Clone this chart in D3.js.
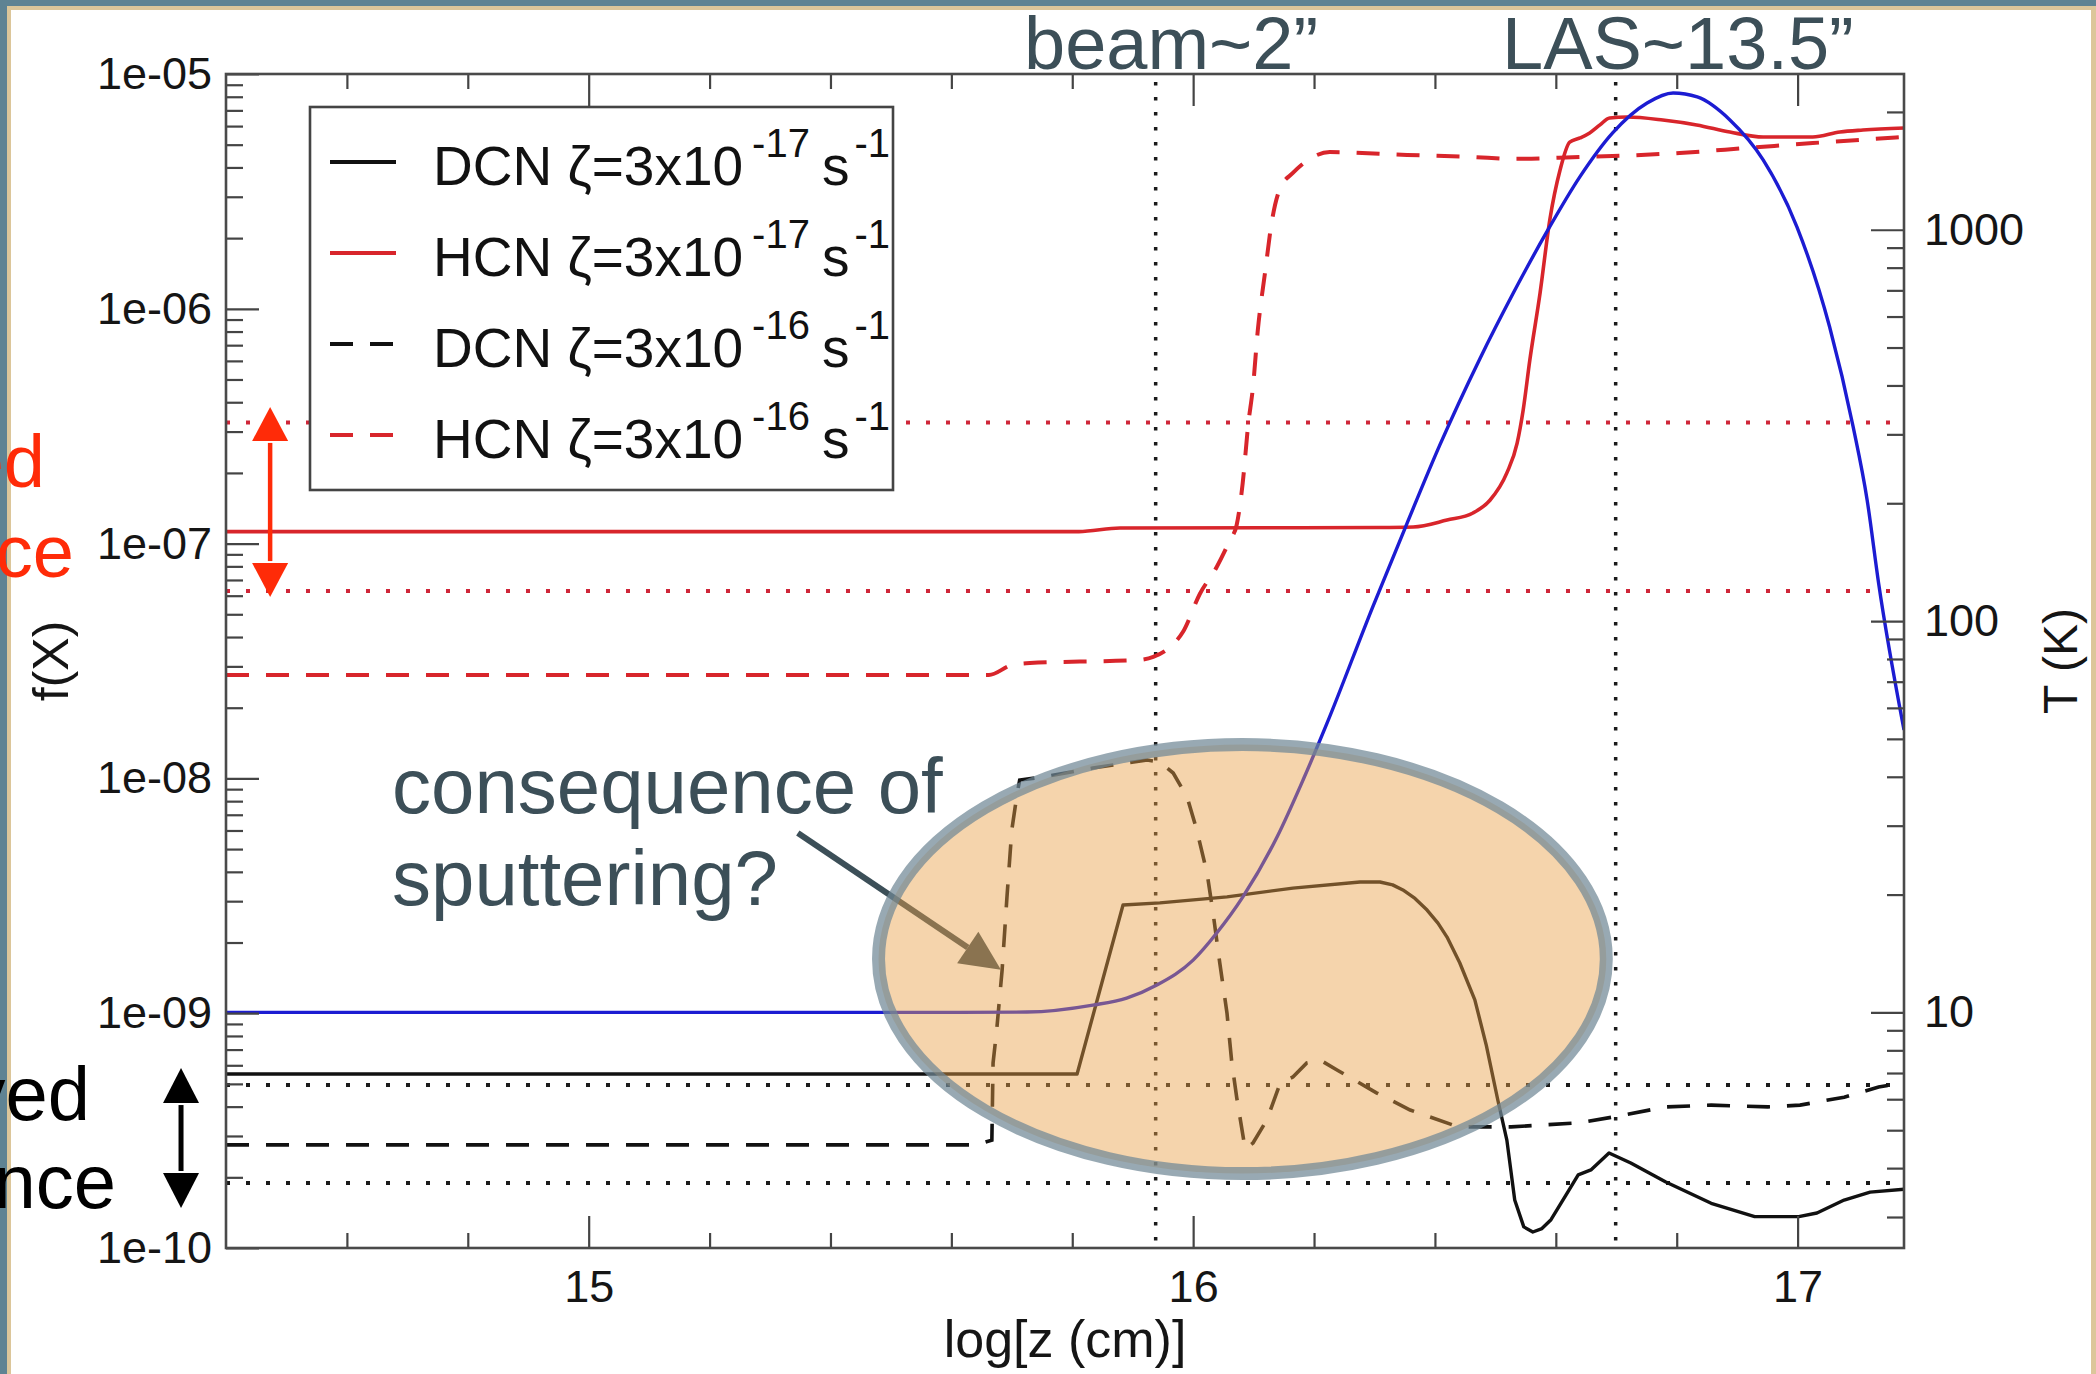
<!DOCTYPE html>
<html>
<head>
<meta charset="utf-8">
<script src="https://cdn.jsdelivr.net/npm/d3@7"></script>
<style>
  html, body { margin: 0; padding: 0; background: #ffffff; }
  svg { display: block; font-family: "Liberation Sans", Arial, Helvetica, sans-serif; }
</style>
</head>
<body>
<svg id="chart" width="2096" height="1374"></svg>
<script>
// ---- axis domains and tick labels ----
const xDomain = [14.4, 17.176];            // log[z (cm)]
const fDomain = [1e-10, 1e-5];             // fractional abundance f(X)
const tDomain = [2.5, 2500];               // temperature T (K)
const xMajorTicks = [15, 16, 17];
const xTickLabels = ["15", "16", "17"];
const fMajorTicks = [1e-10, 1e-9, 1e-8, 1e-7, 1e-6, 1e-5];
const fTickLabels = ["1e-10", "1e-09", "1e-08", "1e-07", "1e-06", "1e-05"];
const tMajorTicks = [10, 100, 1000];
const tTickLabels = ["10", "100", "1000"];

// ---- model profiles: [log z, value] ----
const dcn17 = [
  [14.400, 5.51e-10], [15.808, 5.51e-10], [15.884, 2.89e-9], [15.945, 2.95e-9], [16.056, 3.13e-9],
  [16.165, 3.41e-9], [16.276, 3.62e-9], [16.309, 3.62e-9], [16.330, 3.52e-9], [16.347, 3.35e-9],
  [16.367, 3.08e-9], [16.387, 2.75e-9], [16.405, 2.42e-9], [16.420, 2.11e-9], [16.441, 1.64e-9],
  [16.466, 1.14e-9], [16.485, 7.3e-10], [16.504, 4.27e-10], [16.519, 2.88e-10], [16.532, 1.60e-10],
  [16.547, 1.23e-10], [16.562, 1.17e-10], [16.577, 1.21e-10], [16.592, 1.32e-10], [16.622, 1.77e-10],
  [16.637, 2.05e-10], [16.658, 2.15e-10], [16.688, 2.54e-10], [16.724, 2.30e-10], [16.782, 1.91e-10],
  [16.857, 1.55e-10], [16.929, 1.36e-10], [17.002, 1.36e-10], [17.032, 1.41e-10], [17.077, 1.60e-10],
  [17.120, 1.73e-10], [17.176, 1.78e-10]
];
const hcn17 = [
  [14.400, 1.125e-7], [15.811, 1.125e-7], [15.879, 1.165e-7], [16.309, 1.171e-7], [16.364, 1.177e-7],
  [16.420, 1.26e-7], [16.463, 1.35e-7], [16.491, 1.53e-7], [16.519, 2.0e-7], [16.536, 2.68e-7],
  [16.546, 3.71e-7], [16.557, 6.05e-7], [16.574, 1.17e-6], [16.590, 2.39e-6], [16.607, 3.90e-6],
  [16.623, 5.13e-6], [16.640, 5.34e-6], [16.656, 5.61e-6], [16.673, 6.07e-6], [16.689, 6.50e-6],
  [16.718, 6.56e-6], [16.777, 6.37e-6], [16.833, 6.07e-6], [16.888, 5.66e-6], [16.943, 5.39e-6],
  [17.025, 5.39e-6], [17.070, 5.66e-6], [17.108, 5.77e-6], [17.176, 5.89e-6]
];
const dcn16 = [
  [14.400, 2.75e-10], [15.642, 2.75e-10], [15.667, 2.88e-10], [15.669, 6.14e-10], [15.675, 8.48e-10],
  [15.684, 1.53e-9], [15.692, 3.13e-9], [15.700, 6.03e-9], [15.709, 8.67e-9], [15.713, 9.84e-9],
  [15.752, 1.014e-8], [15.834, 1.107e-8], [15.924, 1.198e-8], [15.945, 1.174e-8], [15.967, 1.054e-8],
  [15.990, 8.33e-9], [16.006, 6.03e-9], [16.023, 3.95e-9], [16.033, 2.67e-9], [16.044, 1.64e-9],
  [16.056, 1.00e-9], [16.064, 6.14e-10], [16.072, 4.39e-10], [16.086, 2.64e-10], [16.099, 2.80e-10],
  [16.122, 3.51e-10], [16.144, 5.04e-10], [16.165, 5.35e-10], [16.188, 6.14e-10], [16.210, 6.32e-10],
  [16.238, 5.73e-10], [16.304, 4.57e-10], [16.359, 3.87e-10], [16.430, 3.34e-10], [16.453, 3.28e-10],
  [16.526, 3.28e-10], [16.637, 3.41e-10], [16.694, 3.61e-10], [16.782, 3.99e-10], [16.857, 4.06e-10],
  [16.951, 3.99e-10], [17.004, 4.06e-10], [17.077, 4.39e-10], [17.134, 4.85e-10], [17.176, 5.04e-10]
];
const hcn16 = [
  [14.400, 2.756e-8], [15.662, 2.756e-8], [15.700, 3.04e-8], [15.730, 3.10e-8], [15.907, 3.19e-8],
  [15.934, 3.29e-8], [15.962, 3.63e-8], [15.983, 4.20e-8], [16.011, 6.10e-8], [16.039, 7.95e-8],
  [16.061, 1.036e-7], [16.072, 1.20e-7], [16.082, 1.81e-7], [16.091, 3.20e-7], [16.099, 4.65e-7],
  [16.107, 8.12e-7], [16.119, 1.43e-6], [16.130, 2.34e-6], [16.144, 3.27e-6], [16.165, 3.79e-6],
  [16.198, 4.43e-6], [16.226, 4.65e-6], [16.354, 4.52e-6], [16.463, 4.43e-6], [16.529, 4.35e-6],
  [16.640, 4.43e-6], [16.694, 4.47e-6], [16.805, 4.61e-6], [16.916, 4.84e-6], [17.025, 5.08e-6],
  [17.176, 5.39e-6]
];
const temperature = [
  [14.400, 10.0], [15.614, 10.0], [15.725, 10.02], [15.834, 10.44], [15.890, 10.88], [15.940, 11.75],
  [16.000, 13.6], [16.039, 15.95], [16.082, 19.7], [16.139, 28.1], [16.182, 39.3], [16.221, 54.6],
  [16.297, 108.6], [16.354, 178], [16.408, 281.5], [16.474, 467], [16.529, 686], [16.585, 987],
  [16.640, 1367], [16.694, 1768], [16.751, 2108], [16.794, 2236], [16.834, 2184], [16.888, 1908],
  [16.943, 1508], [16.999, 1016], [17.053, 564], [17.092, 313], [17.115, 204], [17.134, 125],
  [17.176, 52.7]
];

// observed abundance ranges and angular scales
const hcnObserved = [6.28e-8, 3.28e-7];
const dcnObserved = [1.89e-10, 4.94e-10];
const beamLogZ = 15.938;
const lasLogZ = 16.699;

const legendNames = ["DCN", "HCN", "DCN", "HCN"];
const legendZetaExp = ["-17", "-17", "-16", "-16"];

// ---- layout ----
const W = 2096, H = 1374;
const plot = { left: 226, top: 74, right: 1904, bottom: 1248 };
const RED = "#d8252b", BLUE = "#1c1cd2", BLACK = "#111111";
const SLATE = "#3c4f58", ALERT = "#ff2b08";
const FONT = '"Liberation Sans", Arial, Helvetica, sans-serif';

const svg = d3.select("#chart");

// slide frame
svg.append("rect").attr("width", W).attr("height", H).attr("fill", "#5f8393");
svg.append("rect").attr("x", 7).attr("y", 6).attr("width", W - 7).attr("height", H).attr("fill", "#dcc69a");
svg.append("rect").attr("x", 11).attr("y", 10).attr("width", 2080).attr("height", H).attr("fill", "#ffffff");

const x = d3.scaleLinear().domain(xDomain).range([plot.left, plot.right]);
const yF = d3.scaleLog().domain(fDomain).range([plot.bottom, plot.top]);
const yT = d3.scaleLog().domain(tDomain).range([plot.bottom, plot.top]);

svg.append("defs").append("clipPath").attr("id", "plotClip")
  .append("rect").attr("x", plot.left).attr("y", plot.top)
  .attr("width", plot.right - plot.left).attr("height", plot.bottom - plot.top);

const g = svg.append("g").attr("clip-path", "url(#plotClip)");

// observed ranges (dotted horizontals)
hcnObserved.forEach(v => g.append("line")
  .attr("x1", plot.left).attr("x2", plot.right).attr("y1", yF(v)).attr("y2", yF(v))
  .attr("stroke", "#cf2638").attr("stroke-width", 4).attr("stroke-dasharray", "4,16"));
dcnObserved.forEach(v => g.append("line")
  .attr("x1", plot.left).attr("x2", plot.right).attr("y1", yF(v)).attr("y2", yF(v))
  .attr("stroke", "#1a1a1a").attr("stroke-width", 4).attr("stroke-dasharray", "4,16"));
// beam and LAS positions (dotted verticals)
[beamLogZ, lasLogZ].forEach(v => g.append("line")
  .attr("x1", x(v)).attr("x2", x(v)).attr("y1", plot.top + 8).attr("y2", plot.bottom)
  .attr("stroke", "#1a1a1a").attr("stroke-width", 3.5).attr("stroke-dasharray", "3.5,11.5"));

const lineF = (curve) => d3.line().x(d => x(d[0])).y(d => yF(d[1])).curve(curve);
const lineT = d3.line().x(d => x(d[0])).y(d => yT(d[1])).curve(d3.curveMonotoneX);

const DASH = "23,17";
g.append("path").datum(hcn16).attr("d", lineF(d3.curveMonotoneX)).attr("fill", "none")
  .attr("stroke", RED).attr("stroke-width", 4).attr("stroke-dasharray", DASH);
g.append("path").datum(hcn17).attr("d", lineF(d3.curveMonotoneX)).attr("fill", "none")
  .attr("stroke", RED).attr("stroke-width", 3.6);
g.append("path").datum(dcn16).attr("d", lineF(d3.curveLinear)).attr("fill", "none")
  .attr("stroke", BLACK).attr("stroke-width", 3.6).attr("stroke-dasharray", DASH);
g.append("path").datum(dcn17).attr("d", lineF(d3.curveLinear)).attr("fill", "none")
  .attr("stroke", BLACK).attr("stroke-width", 3.4).attr("stroke-linejoin", "round");
g.append("path").datum(temperature).attr("d", lineT).attr("fill", "none")
  .attr("stroke", BLUE).attr("stroke-width", 3.4);

// ---- axes ----
const TICK = "#444444";
function styleAxis(sel) {
  sel.select(".domain").remove();
  sel.selectAll("line").attr("stroke", TICK).attr("stroke-width", 2.2);
  sel.selectAll("text").attr("fill", "#151515").attr("font-size", 45).attr("font-family", FONT);
}
const decadeMinor = (lo, hi) => {
  const out = [];
  for (let e = Math.floor(Math.log10(lo)); e <= Math.ceil(Math.log10(hi)); e++) {
    for (let m = 2; m <= 9; m++) { const v = m * Math.pow(10, e); if (v > lo && v < hi) out.push(v); }
  }
  return out;
};
const xMinor = d3.range(14.6, 17.17, 0.2).filter(v => !xMajorTicks.some(t => Math.abs(t - v) < 1e-6));

// left (abundance)
svg.append("g").attr("transform", `translate(${plot.left},0)`)
  .call(d3.axisLeft(yF).tickValues(decadeMinor(1e-10, 1e-5)).tickFormat("").tickSizeInner(-17).tickSizeOuter(0))
  .call(styleAxis);
svg.append("g").attr("transform", `translate(${plot.left},0)`)
  .call(d3.axisLeft(yF).tickValues(fMajorTicks).tickFormat((d, i) => fTickLabels[i])
    .tickSizeInner(-33).tickSizeOuter(0).tickPadding(14))
  .call(styleAxis);
// right (temperature)
svg.append("g").attr("transform", `translate(${plot.right},0)`)
  .call(d3.axisRight(yT).tickValues(decadeMinor(2.5, 2500)).tickFormat("").tickSizeInner(-17).tickSizeOuter(0))
  .call(styleAxis);
svg.append("g").attr("transform", `translate(${plot.right},0)`)
  .call(d3.axisRight(yT).tickValues(tMajorTicks).tickFormat((d, i) => tTickLabels[i])
    .tickSizeInner(-33).tickSizeOuter(0).tickPadding(20))
  .call(styleAxis);
// bottom
svg.append("g").attr("transform", `translate(0,${plot.bottom})`)
  .call(d3.axisBottom(x).tickValues(xMinor).tickFormat("").tickSizeInner(-15).tickSizeOuter(0))
  .call(styleAxis);
svg.append("g").attr("transform", `translate(0,${plot.bottom})`)
  .call(d3.axisBottom(x).tickValues(xMajorTicks).tickFormat((d, i) => xTickLabels[i])
    .tickSizeInner(-32).tickSizeOuter(0).tickPadding(22))
  .call(styleAxis);
// top
svg.append("g").attr("transform", `translate(0,${plot.top})`)
  .call(d3.axisTop(x).tickValues(xMinor).tickFormat("").tickSizeInner(-15).tickSizeOuter(0))
  .call(styleAxis);
svg.append("g").attr("transform", `translate(0,${plot.top})`)
  .call(d3.axisTop(x).tickValues(xMajorTicks).tickFormat("").tickSizeInner(-32).tickSizeOuter(0))
  .call(styleAxis);

// frame of the plot
svg.append("rect").attr("x", plot.left).attr("y", plot.top)
  .attr("width", plot.right - plot.left).attr("height", plot.bottom - plot.top)
  .attr("fill", "none").attr("stroke", "#4a4a4a").attr("stroke-width", 2.6);

// axis titles
svg.append("text").attr("x", (plot.left + plot.right) / 2).attr("y", 1357)
  .attr("text-anchor", "middle").attr("font-size", 52).attr("fill", "#151515").text("log[z (cm)]");
svg.append("text").attr("transform", `translate(68,${(plot.top + plot.bottom) / 2}) rotate(-90)`)
  .attr("text-anchor", "middle").attr("font-size", 50).attr("fill", "#151515").text("f(X)");
svg.append("text").attr("transform", `translate(2077,${(plot.top + plot.bottom) / 2}) rotate(-90)`)
  .attr("text-anchor", "middle").attr("font-size", 48).attr("fill", "#151515").text("T (K)");

// ---- legend ----
const lg = svg.append("g");
lg.append("rect").attr("x", 310).attr("y", 107).attr("width", 583).attr("height", 383)
  .attr("fill", "#ffffff").attr("stroke", "#444444").attr("stroke-width", 2.6);
const legendStyles = [
  { color: BLACK, dash: null }, { color: RED, dash: null },
  { color: BLACK, dash: "23,17" }, { color: RED, dash: "23,17" }
];
legendNames.forEach((name, i) => {
  const cy = 162 + i * 91;
  lg.append("line").attr("x1", 330).attr("x2", 396).attr("y1", cy).attr("y2", cy)
    .attr("stroke", legendStyles[i].color).attr("stroke-width", 4)
    .attr("stroke-dasharray", legendStyles[i].dash);
  const t = lg.append("text").attr("x", 433).attr("y", cy + 23).attr("font-size", 55).attr("fill", "#111");
  t.append("tspan").text(`${name} ζ=3x10`);
  t.append("tspan").attr("font-size", 40).attr("dx", 9).attr("dy", -28).text(legendZetaExp[i]);
  t.append("tspan").attr("font-size", 55).attr("dx", 12).attr("dy", 28).text("s");
  t.append("tspan").attr("font-size", 40).attr("dx", 5).attr("dy", -28).text("-1");
});

// ---- annotations ----
function arrowHead(parent, tip, from, len, half, color) {
  const a = Math.atan2(tip[1] - from[1], tip[0] - from[0]);
  const bx = tip[0] - len * Math.cos(a), by = tip[1] - len * Math.sin(a);
  const px = -Math.sin(a) * half, py = Math.cos(a) * half;
  parent.append("polygon")
    .attr("points", `${tip[0]},${tip[1]} ${bx + px},${by + py} ${bx - px},${by - py}`)
    .attr("fill", color);
  return [bx, by];
}
function doubleArrow(xp, y1, y2, color, width, len, half) {
  const top = [xp, y1], bot = [xp, y2];
  const b1 = arrowHead(svg, top, bot, len, half, color);
  const b2 = arrowHead(svg, bot, top, len, half, color);
  svg.append("line").attr("x1", xp).attr("x2", xp).attr("y1", b1[1] + 2).attr("y2", b2[1] - 2)
    .attr("stroke", color).attr("stroke-width", width);
}
// observed HCN range marker (inside the plot)
doubleArrow(x(14.473), yF(3.82e-7), yF(5.92e-8), ALERT, 4.5, 34, 18);
// observed DCN range marker (left of the axis)
doubleArrow(x(14.3256), yF(5.84e-10), yF(1.48e-10), "#000000", 5, 35, 18);

// arrow from the note to the DCN jump
const arFrom = [x(15.346), yF(5.85e-9)], arTip = [x(15.682), yF(1.53e-9)];
const arBase = arrowHead(svg, arTip, arFrom, 40, 19, SLATE);
svg.append("line").attr("x1", arFrom[0]).attr("y1", arFrom[1]).attr("x2", arBase[0]).attr("y2", arBase[1])
  .attr("stroke", SLATE).attr("stroke-width", 6);

// highlighted region
const ec = [16.0815, 1.70e-9];
const erx = x(ec[0] + 0.602) - x(ec[0]);
const ery = yF(ec[1] / Math.pow(10, 0.9135)) - yF(ec[1]);
svg.append("ellipse").attr("cx", x(ec[0])).attr("cy", yF(ec[1])).attr("rx", erx).attr("ry", ery)
  .attr("fill", "rgb(232,160,70)").attr("fill-opacity", 0.45)
  .attr("stroke", "rgb(112,136,150)").attr("stroke-opacity", 0.72).attr("stroke-width", 13);

// notes
svg.append("text").attr("x", 392).attr("y", 813).attr("font-size", 78).attr("fill", SLATE).text("consequence of");
svg.append("text").attr("x", 392).attr("y", 905).attr("font-size", 78).attr("fill", SLATE).text("sputtering?");
svg.append("text").attr("x", 1024).attr("y", 69).attr("font-size", 74).attr("fill", SLATE).text("beam~2”");
svg.append("text").attr("x", 1502).attr("y", 69).attr("font-size", 74).attr("fill", SLATE).text("LAS~13.5”");

// range labels running off the left edge of the slide
svg.append("text").attr("x", 45).attr("y", 487).attr("text-anchor", "end").attr("font-size", 74).attr("fill", ALERT).text("observed");
svg.append("text").attr("x", 74).attr("y", 577).attr("text-anchor", "end").attr("font-size", 74).attr("fill", ALERT).text("abundance");
svg.append("text").attr("x", 90).attr("y", 1120).attr("text-anchor", "end").attr("font-size", 76).attr("fill", "#000").text("observed");
svg.append("text").attr("x", 116).attr("y", 1208).attr("text-anchor", "end").attr("font-size", 76).attr("fill", "#000").text("abundance");
</script>
</body>
</html>
